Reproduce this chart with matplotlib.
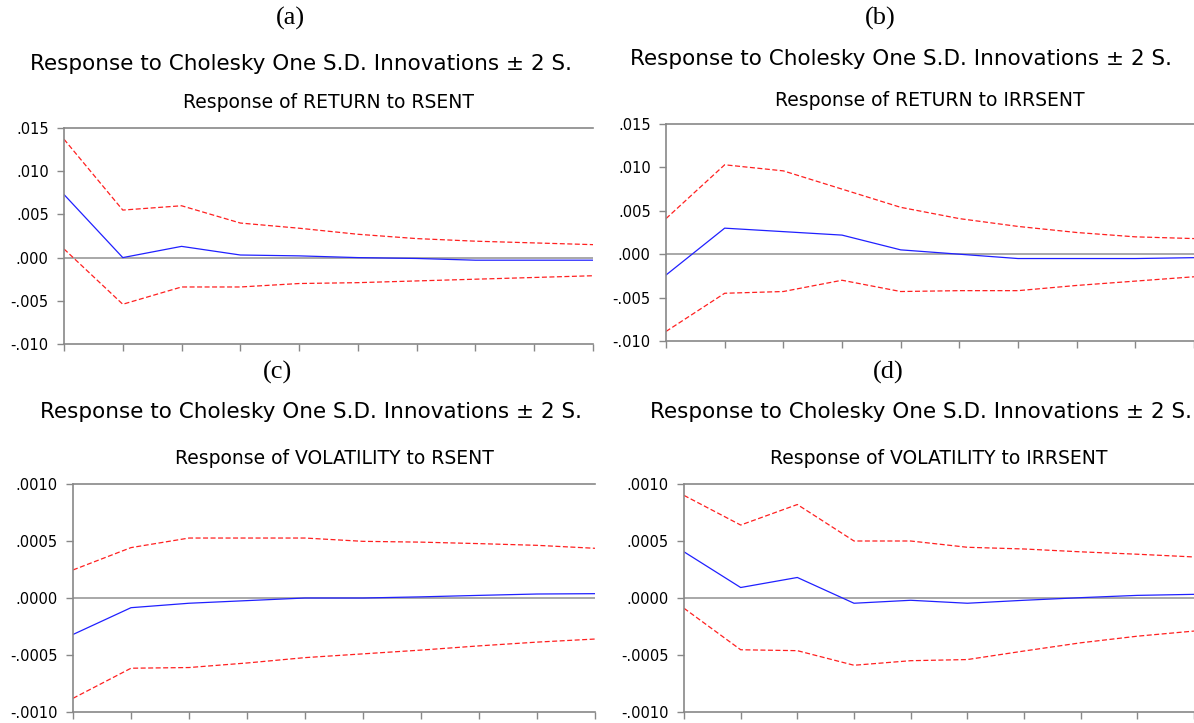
import matplotlib.pyplot as plt
import matplotlib.ticker as mticker

W, H = 1194, 723

periods = list(range(1, 11))

# (a) Response of RETURN to RSENT
a_resp = [0.0073, 0.0000, 0.0013, 0.0003, 0.0002, 0.0000, -0.0001, -0.0003, -0.0003, -0.0003]
a_upper = [0.0137, 0.0055, 0.0060, 0.0040, 0.0034, 0.0027, 0.0022, 0.0019, 0.0017, 0.0015]
a_lower = [0.0010, -0.0054, -0.0034, -0.0034, -0.0030, -0.0029, -0.0027, -0.0025, -0.0023, -0.0021]

# (b) Response of RETURN to IRRSENT
b_resp = [-0.0024, 0.0030, 0.0026, 0.0022, 0.0005, 0.0000, -0.0005, -0.0005, -0.0005, -0.0004]
b_upper = [0.0041, 0.0103, 0.0096, 0.0075, 0.0054, 0.0041, 0.0032, 0.0025, 0.0020, 0.0018]
b_lower = [-0.0089, -0.0045, -0.0043, -0.0030, -0.0043, -0.0042, -0.0042, -0.0036, -0.0031, -0.0026]

# (c) Response of VOLATILITY to RSENT
c_resp = [-0.00032, -0.000085, -0.000046, -0.000023, 0.0, 0.0, 0.00001, 0.000023, 0.000035, 0.000038]
c_upper = [0.000246, 0.000442, 0.000526, 0.000526, 0.000526, 0.000497, 0.00049, 0.000477, 0.000462, 0.000436]
c_lower = [-0.00088, -0.000616, -0.00061, -0.00057, -0.000523, -0.00049, -0.000457, -0.00042, -0.000387, -0.00036]

# (d) Response of VOLATILITY to IRRSENT
d_resp = [0.000405, 0.000092, 0.00018, -0.000046, -0.00002, -0.000046, -0.00002, 0.000003, 0.000023, 0.000032]
d_upper = [0.0009, 0.00064, 0.00082, 0.0005, 0.0005, 0.000445, 0.00043, 0.000405, 0.000384, 0.00036]
d_lower = [-0.00009, -0.000454, -0.000462, -0.00059, -0.00055, -0.00054, -0.000465, -0.000393, -0.000335, -0.00029]

ret_ticks = [0.015, 0.010, 0.005, 0.0, -0.005, -0.010]
ret_labels = [".015", ".010", ".005", ".000", "-.005", "-.010"]
vol_ticks = [0.0010, 0.0005, 0.0, -0.0005, -0.0010]
vol_labels = [".0010", ".0005", ".0000", "-.0005", "-.0010"]

main_title = "Response to Cholesky One S.D. Innovations \u00b1 2 S."

panels = [
    # letter, subtitle, data, ticks, labels, axes box (px: left, top, right, bottom), letter pos, title pos, subtitle y
    ("(a)", "Response of RETURN to RSENT", (a_resp, a_upper, a_lower), ret_ticks, ret_labels,
     (64, 128, 593, 344), (290, 18), (30, 64), 102),
    ("(b)", "Response of RETURN to IRRSENT", (b_resp, b_upper, b_lower), ret_ticks, ret_labels,
     (666, 124, 1194, 341), (880, 18), (630, 59), 100),
    ("(c)", "Response of VOLATILITY to RSENT", (c_resp, c_upper, c_lower), vol_ticks, vol_labels,
     (73, 484, 595, 712), (277, 372), (40, 412), 459),
    ("(d)", "Response of VOLATILITY to IRRSENT", (d_resp, d_upper, d_lower), vol_ticks, vol_labels,
     (684, 484, 1194, 712), (888, 372), (650, 412), 459),
]

fig = plt.figure(figsize=(W / 100, H / 100), dpi=100)
plt.rcParams['font.family'] = ['DejaVu Sans']

for letter, sub, (resp, upper, lower), ticks, labels, box, lpos, tpos, sub_y in panels:
    l, t, r, b = box
    ax = fig.add_axes([l / W, 1 - b / H, (r - l) / W, (b - t) / H])

    ax.plot(periods, upper, color='#ff2020', lw=0.9, dashes=(4, 2))
    ax.plot(periods, lower, color='#ff2020', lw=0.9, dashes=(4, 2))
    ax.plot(periods, resp, color='#2020ff', lw=0.9)
    ax.axhline(0, color='#999999', lw=1.2, zorder=0)

    ax.set_xlim(1, 10)
    ax.set_ylim(min(ticks), max(ticks))
    ax.set_yticks(ticks)
    ax.set_yticklabels(labels)
    ax.xaxis.set_major_locator(mticker.MultipleLocator(1))
    ax.set_xticklabels([])

    for side in ['left', 'bottom', 'top']:
        ax.spines[side].set_color('#888888')
        ax.spines[side].set_linewidth(1.2)
    ax.spines['right'].set_visible(False)
    ax.tick_params(axis='both', direction='out', length=5, width=1, color='#888888',
                   labelsize=10.5, labelcolor='black', pad=6)

    cx = (l + r) / 2
    fig.text(lpos[0] / W, 1 - lpos[1] / H, letter, ha='center', va='center',
             fontsize=19, family=['Liberation Serif', 'DejaVu Serif'])
    fig.text(tpos[0] / W, 1 - tpos[1] / H, main_title, ha='left', va='center', fontsize=15.5)
    fig.text(cx / W, 1 - sub_y / H, sub, ha='center', va='center', fontsize=13.5)

fig.savefig("out.png", dpi=100)
